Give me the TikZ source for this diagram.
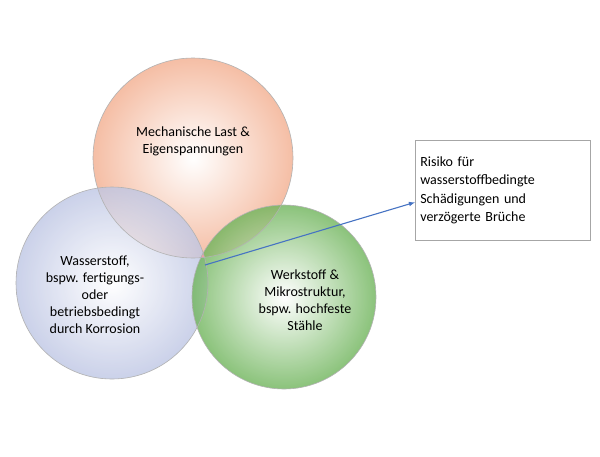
\documentclass[tikz,border=0pt]{standalone}
\usepackage{fontspec}
\setmainfont{Carlito}
\definecolor{topc}{RGB}{245,190,165}
\definecolor{leftc}{RGB}{190,198,228}
\definecolor{rightc}{RGB}{110,180,90}
\definecolor{midc}{RGB}{238,160,165}
\definecolor{arrc}{RGB}{70,115,195}
\begin{document}
\begin{tikzpicture}[x=1pt,y=-1pt,
  circ/.style={draw=gray!60,line width=0.6pt},
  lbl/.style={align=center,font=\fontsize{14}{17}\selectfont}]
\useasboundingbox (0,0) rectangle (600,456);
\fill[white] (0,0) rectangle (600,456);
\coordinate (T) at (193,158);
\coordinate (L) at (112,283);
\coordinate (R) at (284,297);
\shade[inner color=white,outer color=topc] (T) circle (100);
\shade[inner color=white,outer color=leftc,opacity=0.8] (L) circle (96);
\shade[inner color=white,outer color=rightc,opacity=0.8] (R) circle (92);
\begin{scope}
\clip (T) circle (100);
\clip (L) circle (96);
\fill[midc] (R) circle (92);
\end{scope}
\draw[circ] (T) circle (100);
\draw[circ] (L) circle (96);
\draw[circ] (R) circle (92);
\node[lbl] (tt) at (193,141) {Mechanische Last \&\\Eigenspannungen};
\node[lbl] (lt) at (95,295) {Wasserstoff,\\bspw. fertigungs-\\oder\\betriebsbedingt\\durch Korrosion};
\node[lbl] (rt) at (305,300) {Werkstoff \&\\Mikrostruktur,\\bspw. hochfeste\\Stähle};
\node[draw=gray!70,line width=0.6pt,align=left,font=\fontsize{14}{18.5}\selectfont,
  minimum width=175pt,minimum height=100pt,text width=165pt,anchor=north west] (box) at (415,140)
  {Risiko für\\wasserstoffbedingte\\Schädigungen und\\verzögerte Brüche};
\coordinate (s) at (205,265);
\draw[-latex,line width=1.1pt,arrc] (s) -- ([yshift=-12pt]box.west);
\end{tikzpicture}
\end{document}
